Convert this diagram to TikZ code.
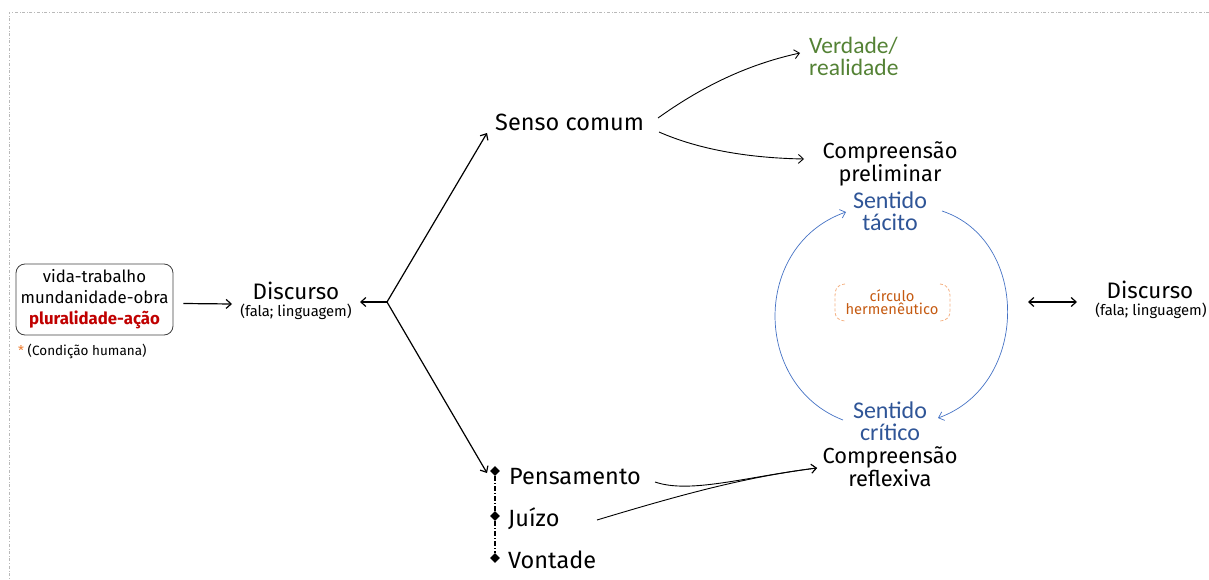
\documentclass[tikz,border=0pt]{standalone}
\usepackage{fontspec}
\setmainfont{Fira Sans}
\newfontfamily\calfont{Carlito}
\usetikzlibrary{arrows.meta,shapes.geometric}
\definecolor{redc}{HTML}{C00000}
\definecolor{greenc}{HTML}{548235}
\definecolor{bluec}{HTML}{2F5597}
\definecolor{arcblue}{HTML}{4472C4}
\definecolor{orangec}{HTML}{C55A11}
\definecolor{orangel}{HTML}{F4B183}
\definecolor{asterisk}{HTML}{ED7D31}
\tikzset{
  txt/.style={inner sep=0pt, align=center},
  big/.style={txt, font=\fontsize{23.5}{24}\selectfont},
  arr/.style={line width=1.2pt, -{Straight Barb[length=5pt,width=9pt]}},
  thinarr/.style={line width=0.9pt, -{Straight Barb[length=5pt,width=9pt]}},
  bluearr/.style={arcblue, line width=0.7pt, -{Straight Barb[length=5pt,width=9pt]}},
  dia/.style={diamond, fill=black, inner sep=0pt, minimum size=10pt},
}
\begin{document}
\begin{tikzpicture}[x=1pt,y=-1pt]
\useasboundingbox (0,0) rectangle (1209,580);
% border
\draw[gray!55, dash dot, line width=0.6pt] (1209,12) -- (9,12) -- (9,580);

% left box
\node[draw=black!75, rounded corners=9pt, line width=0.8pt, minimum width=157pt, minimum height=71pt, align=center, inner sep=0pt,
      font=\fontsize{16.8}{21}\selectfont] (cond) at (94.5,299.5)
  {vida-trabalho\\mundanidade-obra\\{\color{redc}\bfseries pluralidade-ação}};
\node[txt, anchor=west, font=\fontsize{13.5}{14}\selectfont] (condlab) at (18,351) {{\color{asterisk}*} (Condição humana)};

% Discurso left
\node[txt, font=\fontsize{22.4}{23}\selectfont] (disc) at (296,291) {Discurso};
\node[txt, font=\fontsize{14.8}{15}\selectfont] (discsub) at (296,312) {(fala; linguagem)};
\coordinate (discin) at (232,304);
\draw[arr] (cond.east) ++(10,4) coordinate (boxout) -- (discin);

% fork
\coordinate (fork) at (387,302);
\coordinate (forkl) at (360,302);
\draw[arr] (fork) -- (forkl);

% Senso comum
\node[big, anchor=west] (senso) at (495,122) {Senso comum};
\coordinate (sensoin) at (487,133);
\draw[arr] (fork) -- (sensoin);

% Pensamento etc
\node[dia] (d1) at (495,471) {};
\node[dia] (d2) at (495,516) {};
\node[dia] (d3) at (495,558) {};
\draw[line width=1.5pt, dash pattern=on 5pt off 2pt on 1pt off 2pt] (d1) -- (d2) -- (d3);
\node[big, anchor=west] (pens) at (509,477) {Pensamento};
\node[big, anchor=west] (juizo) at (508,519) {Juízo};
\node[big, anchor=west] (vont) at (508,560) {Vontade};
\coordinate (pensin) at (487,473);
\draw[arr] (fork) -- (pensin);

% right column
\node[txt, anchor=west, text=greenc, align=left, font=\calfont\fontsize{23.5}{22}\selectfont] (verd) at (809,56) {Verdade/\\realidade};
\node[txt, font=\fontsize{21.8}{17}\selectfont] (comp1) at (890,164) {Compreensão\\preliminar};
\node[txt, text=bluec, font=\calfont\fontsize{24}{22}\selectfont] (tac) at (890,211) {Sentido\\tácito};
\node[txt, text=bluec, font=\calfont\fontsize{24}{22}\selectfont] (crit) at (890,421) {Sentido\\crítico};
\node[txt, font=\fontsize{21.8}{19}\selectfont] (comp2) at (890,467) {Compreensão\\reflexiva};

% Senso comum curves
\coordinate (s1) at (658,118);
\coordinate (s2) at (659,132);
\coordinate (verdin) at (800,53);
\coordinate (compin) at (804,159);
\draw[thinarr] (s1) .. controls (700,88) and (745,65) .. (verdin);
\draw[thinarr] (s2) .. controls (700,150) and (750,158) .. (compin);

% Pensamento/Juizo curves
\coordinate (p1) at (655,482);
\coordinate (j1) at (597,520);
\coordinate (reflin) at (817,468);
\draw[thinarr] (p1) .. controls (690,494) and (745,477) .. (reflin);
\draw[thinarr] (j1) .. controls (680,495) and (745,477) .. (reflin);

% hermeneutic circle
\coordinate (la) at (843,420);
\coordinate (lb) at (846,212);
\coordinate (ra) at (942,211);
\coordinate (rb) at (938,418);
\draw[bluearr] (la) .. controls (752,385) and (752,245) .. (lb);
\draw[bluearr] (ra) .. controls (1030,240) and (1030,385) .. (rb);

\node[txt, text=orangec, font=\fontsize{14.7}{13}\selectfont] (circ) at (892,302) {círculo\\hermenêutico};
\draw[orangel, line width=0.8pt, dash pattern=on 3pt off 2pt]
  (845,284) .. controls (836,285) and (835,290) .. (835,296) -- (835,310) .. controls (835,317) and (837,320) .. (845,321);
\draw[orangel, line width=0.8pt, dash pattern=on 3pt off 2pt]
  (940,284) .. controls (948,285) and (950,290) .. (950,296) -- (950,310) .. controls (950,317) and (948,320) .. (940,321);

% right Discurso
\coordinate (dl) at (1028,302);
\coordinate (dr) at (1077,302);
\draw[line width=1.2pt, {Straight Barb[length=5pt,width=9pt]}-{Straight Barb[length=5pt,width=9pt]}] (dl) -- (dr);
\node[txt, font=\fontsize{22.4}{23}\selectfont] (disc2) at (1150,290) {Discurso};
\node[txt, font=\fontsize{14.8}{15}\selectfont] (disc2sub) at (1151,311) {(fala; linguagem)};
\end{tikzpicture}
\end{document}
